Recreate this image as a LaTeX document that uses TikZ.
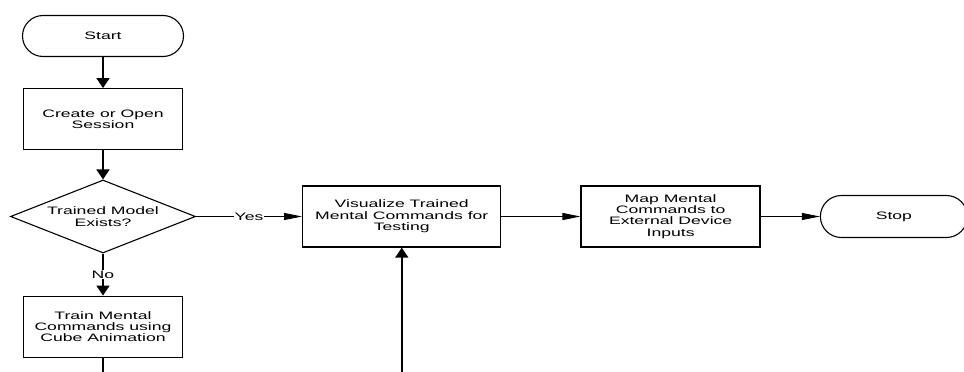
\documentclass[tikz,border=0pt]{standalone}
\usepackage{fontspec}
\setmainfont[FakeStretch=1.63]{Liberation Sans}
\usetikzlibrary{arrows.meta,positioning,shapes.geometric,shapes.misc}

\begin{document}
\begin{tikzpicture}[x=1pt,y=-1pt,font=\fontsize{10.8}{11.3}\selectfont,
    every node/.style={align=center},
    term/.style={draw,line width=1.1pt,rounded rectangle,minimum width=161pt,minimum height=41pt,inner sep=0pt},
    proc/.style={draw,line width=1.4pt,rectangle,minimum width=159pt,minimum height=61pt,inner sep=2pt},
    decide/.style={draw,line width=1.1pt,diamond,aspect=2.5,minimum width=185pt,minimum height=73pt,inner sep=1pt},
    vflow/.style={line width=1.8pt,-{Triangle[length=10pt,width=13pt]}},
    hflow/.style={line width=0.9pt,-{Triangle[length=18pt,width=7pt]}},
    lbl/.style={fill=white,inner sep=1pt}]
    \useasboundingbox (0,0) rectangle (964,372);
    \coordinate (bottom) at (0,372);
    \node[term] (start) at (103,36) {Start};
    \node[proc,below=31pt of start] (session) {Create or Open\\Session};
    \node[decide,below=29pt of session] (model) {Trained Model\\Exists?};
    \node[proc,below=42pt of model] (train) {Train Mental\\Commands using\\Cube Animation};
    \node[proc,minimum width=198pt,right=106pt of model] (visual) {Visualize Trained\\Mental Commands for\\Testing};
    \node[proc,minimum width=179pt,right=79pt of visual] (map) {Map Mental\\Commands to\\External Device\\Inputs};
    \node[term,minimum width=147pt,minimum height=42pt,right=59pt of map] (stop) {Stop};
    \coordinate (trainout) at (train.south |- bottom);
    \coordinate (loopin) at (visual.south |- bottom);
    \draw[vflow] (start) -- (session);
    \draw[vflow] (session) -- (model);
    \draw[vflow] (model) -- node[lbl] {No} (train);
    \draw[hflow] (model) -- node[lbl] {Yes} (visual);
    \draw[hflow] (visual) -- (map);
    \draw[hflow] (map) -- (stop);
    \draw[line width=1.8pt] (train) -- (trainout);
    \draw[vflow] (loopin) -- (visual);
  \end{tikzpicture}
\end{document}
